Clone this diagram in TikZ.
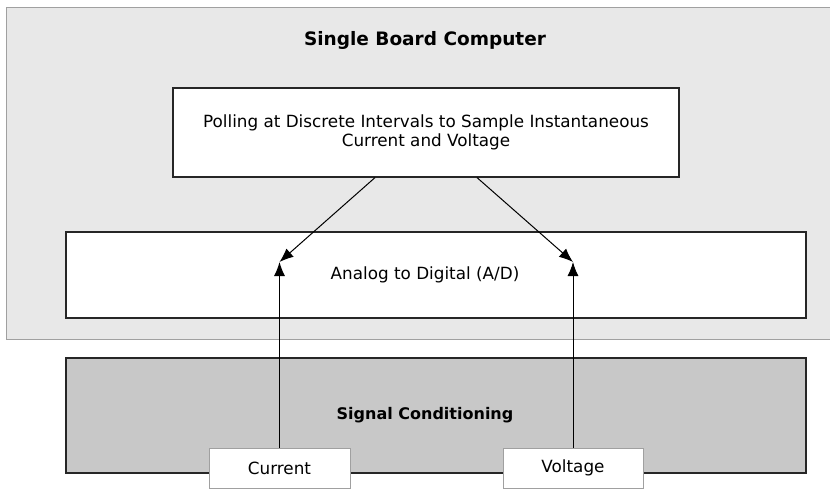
\documentclass[tikz,border=0pt]{standalone}
\usepackage{fontspec}
\setmainfont{DejaVu Sans}
\usetikzlibrary{arrows.meta,positioning}
\definecolor{sbcgray}{HTML}{E8E8E8}
\definecolor{condgray}{HTML}{C8C8C8}
\definecolor{edgegray}{HTML}{A0A0A0}
\tikzset{
  block/.style={draw=black!85, line width=1.2pt, fill=white, inner sep=0pt,
    font=\fontsize{16.8}{19}\selectfont},
  tagbox/.style={draw=edgegray, line width=1pt, fill=white, inner sep=0pt,
    minimum width=141pt, minimum height=40pt, font=\fontsize{16.8}{19}\selectfont},
  flow/.style={-{Latex[length=14pt,width=11pt]}, line width=1pt},
}
\begin{document}
\begin{tikzpicture}[x=1pt, y=-1pt]
  \useasboundingbox (0,0) rectangle (830,489);
  \node(sbc) [draw=edgegray, fill=sbcgray, line width=1pt, anchor=north west,
    minimum width=830pt, minimum height=332pt] at (6,7) {};
  \node(title) [font=\fontsize{18.5}{22}\selectfont\bfseries] at (425,40) {Single Board Computer};
  \node(poll) [block, minimum width=506pt, minimum height=89pt, align=center] at (426,132.5)
    {Polling at Discrete Intervals to Sample Instantaneous\\Current and Voltage};
  \node(adc) [block, minimum width=740pt, minimum height=86pt] at (436,275)
    {\hspace*{-22pt}Analog to Digital (A/D)};
  \node(cond) [block, fill=condgray, minimum width=740pt, minimum height=115pt,
    font=\fontsize{16}{19}\selectfont\bfseries] at (436,415.5) {\hspace*{-22pt}Signal Conditioning};
  \node(cur) [tagbox] at (279.5,468) {Current};
  \node(volt) [tagbox, minimum width=140pt] at (573,468) {Voltage};
  \coordinate(adI) at (279.5,262);
  \coordinate(adV) at (573,262);
  \draw[flow]([xshift=-51pt]poll.south) -- (adI);
  \draw[flow]([xshift=51pt]poll.south) -- (adV);
  \draw[flow](cur) -- (adI);
  \draw[flow](volt) -- (adV);
\end{tikzpicture}
\end{document}
